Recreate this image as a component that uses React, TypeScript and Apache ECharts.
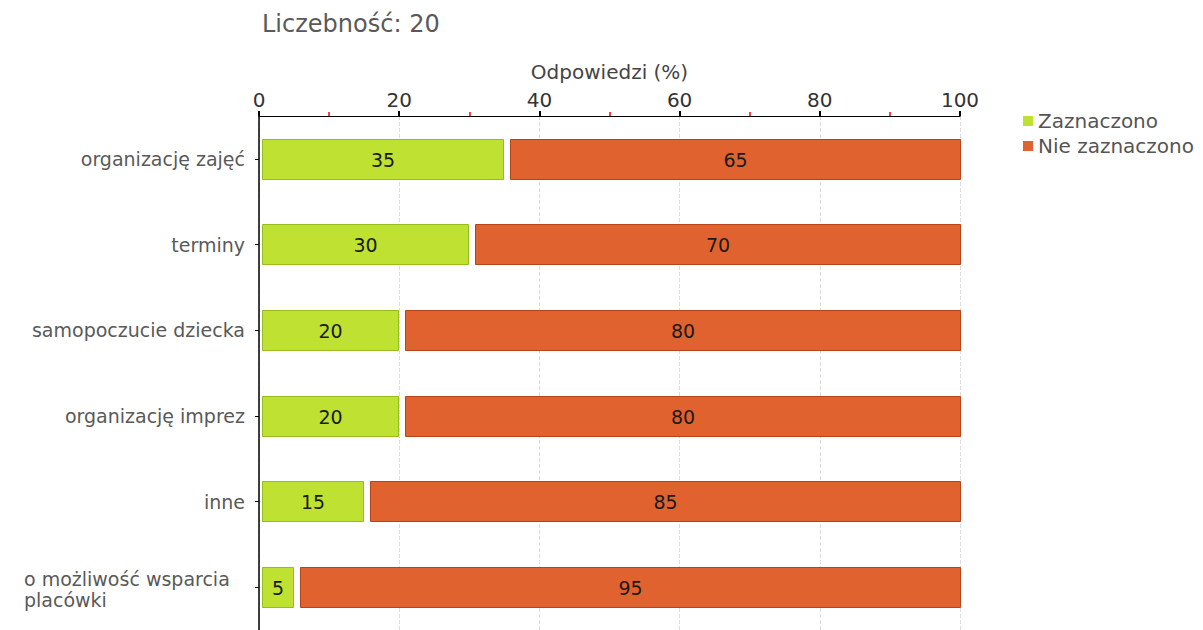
import React, { useEffect, useRef } from "react";
import * as echarts from "echarts";

const categories = [
  "organizację zajęć",
  "terminy",
  "samopoczucie dziecka",
  "organizację imprez",
  "inne",
  "o możliwość wsparcia\nplacówki",
];
const zaznaczono = [35, 30, 20, 20, 15, 5];
const nieZaznaczono = [65, 70, 80, 80, 85, 95];
const xTicks = [0, 20, 40, 60, 80, 100];
const titleText = "Liczebność: 20";
const axisName = "Odpowiedzi (%)";
const seriesNames = ["Zaznaczono", "Nie zaznaczono"];

const FONT = "DejaVu Sans";
const GREEN = "#bee132";
const GREEN_B = "#95bd1e";
const ORANGE = "#e0622e";
const ORANGE_B = "#b5441a";

function makeRender(fill: string, stroke: string, leftPad: number, rightPad: number) {
  return (params: any, api: any) => {
    const s = api.value(0);
    const e = api.value(1);
    const idx = api.value(2);
    const p0 = api.coord([s, idx]);
    const p1 = api.coord([e, idx]);
    const h = api.size([0, 1])[1] * 0.47;
    const x = p0[0] + leftPad;
    const w = p1[0] - rightPad - x;
    return {
      type: "rect",
      shape: { x: Math.round(x) + 0.5, y: Math.round(p0[1] - h / 2) + 0.5, width: Math.round(w), height: Math.round(h) },
      style: { fill, stroke, lineWidth: 1 },
      textContent: {
        style: { text: String(e - s), fill: "#1a1a1a", fontSize: 19, fontFamily: FONT },
      },
      textConfig: { position: "inside" },
    };
  };
}

export default function App() {
  const ref = useRef<HTMLDivElement>(null);
  useEffect(() => {
    if (!ref.current) return;
    const chart = echarts.init(ref.current, undefined, { renderer: "svg" });
    const greenData = categories.map((_, i) => [0, zaznaczono[i], i]);
    const orangeData = categories.map((_, i) => [zaznaczono[i], zaznaczono[i] + nieZaznaczono[i], i]);
    chart.setOption({
      animation: false,
      backgroundColor: "#ffffff",
      title: {
        text: titleText,
        left: 257,
        top: 7,
        textStyle: { fontFamily: FONT, fontSize: 24, fontWeight: "normal", color: "#595959" },
      },
      legend: {
        orient: "vertical",
        left: 1018,
        top: 106,
        itemWidth: 10,
        itemHeight: 10,
        itemGap: 5,
        icon: "rect",
        data: seriesNames,
        textStyle: { fontFamily: FONT, fontSize: 20, color: "#555" },
      },
      grid: { left: 259, right: 243, top: 116, height: 522 },
      xAxis: {
        type: "value",
        position: "top",
        min: 0,
        max: 100,
        interval: 20,
        name: axisName,
        nameLocation: "middle",
        nameGap: 34,
        nameTextStyle: { fontFamily: FONT, fontSize: 20, color: "#444" },
        axisLine: { show: true, lineStyle: { color: "#000", width: 1 } },
        axisTick: { show: true, length: 5, lineStyle: { color: "#000", width: 2 } },
        minorTick: { show: true, splitNumber: 2, length: 4, lineStyle: { color: "#ff0000", width: 1.5 } },
        axisLabel: { fontFamily: FONT, fontSize: 20, color: "#333", margin: 6, formatter: (v: number) => (xTicks.includes(v) ? String(v) : "") },
        splitLine: { show: true, lineStyle: { color: "#dcdcdc", type: "dashed", width: 1 } },
      },
      yAxis: {
        type: "category",
        inverse: true,
        data: categories,
        axisLine: { show: true, lineStyle: { color: "#000", width: 1.5 } },
        axisTick: { show: true, alignWithLabel: true, length: 4, lineStyle: { color: "#000" } },
        axisLabel: {
          fontFamily: FONT,
          fontSize: 19,
          color: "#595959",
          margin: 14,
          formatter: (v: string) => {
            if (v.includes("\n")) {
              return v.split("\n").map((l) => `{w|${l}}`).join("\n");
            }
            return v;
          },
          rich: {
            w: { width: 221, align: "left", fontFamily: FONT, fontSize: 19, color: "#595959", lineHeight: 21, padding: [5, 0, 0, 0] },
          },
        },
        splitLine: { show: false },
      },
      series: [
        {
          name: seriesNames[0],
          type: "custom",
          itemStyle: { color: GREEN },
          encode: { x: [0, 1], y: 2 },
          data: greenData,
          renderItem: makeRender(GREEN, GREEN_B, 3, 1.5),
        },
        {
          name: seriesNames[1],
          type: "custom",
          itemStyle: { color: ORANGE },
          encode: { x: [0, 1], y: 2 },
          data: orangeData,
          renderItem: makeRender(ORANGE, ORANGE_B, 6, 0),
        },
      ],
    });
    return () => chart.dispose();
  }, []);
  return <div ref={ref} style={{ width: 1203, height: 630, position: "absolute", left: 0, top: 0 }} />;
}
